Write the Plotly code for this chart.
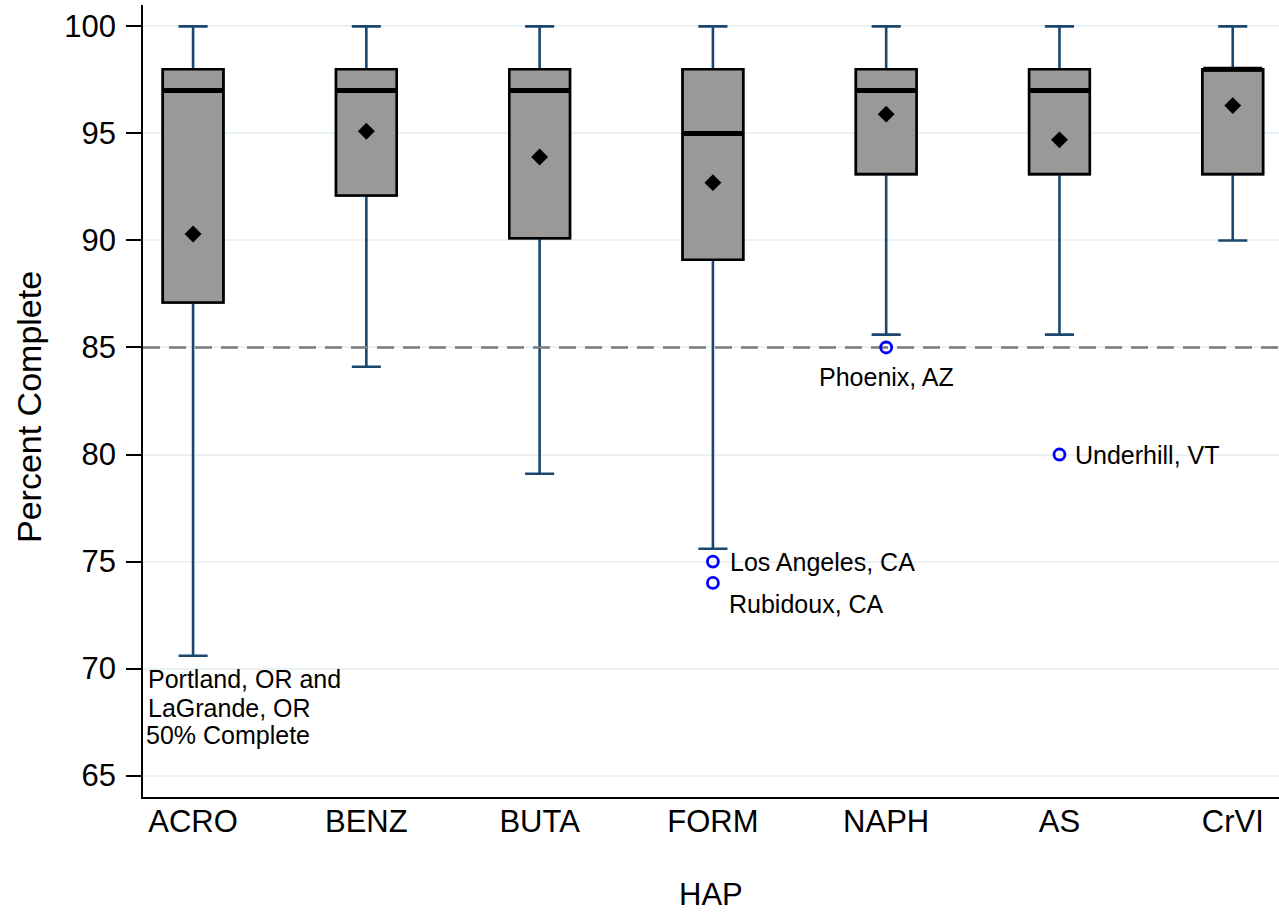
import plotly.graph_objects as go

# ---- data ----
categories = ["ACRO", "BENZ", "BUTA", "FORM", "NAPH", "AS", "CrVI"]
q3_vals = [98, 98, 98, 98, 98, 98, 98]
median_vals = [97, 97, 97, 95, 97, 97, 98]
q1_vals = [87.1, 92.1, 90.1, 89.1, 93.1, 93.1, 93.1]
upper_whisker = [100, 100, 100, 100, 100, 100, 100]
lower_whisker = [70.6, 84.1, 79.1, 75.6, 85.6, 85.6, 90.0]
mean_vals = [90.3, 95.1, 93.9, 92.7, 95.9, 94.7, 96.3]

outlier_cat = ["FORM", "FORM", "NAPH", "AS"]
outlier_vals = [75, 74, 85, 80]

target = 85
y_ticks = [65, 70, 75, 80, 85, 90, 95, 100]
x_range = [-0.289, 6.267]

# label texts and their positions
label_texts = ["Los Angeles, CA", "Rubidoux, CA", "Phoenix, AZ", "Underhill, VT",
               "Portland, OR and", "LaGrande, OR", "50% Complete"]
label_x = [3.087, 3.081, 3.601, 5.078, -0.27, -0.27, -0.285]
label_y = [75, 73.0, 83.64, 80, 69.49, 68.18, 66.92]

pos = list(range(len(categories)))
idx = {c: i for i, c in enumerate(categories)}
outlier_pos = [idx[c] for c in outlier_cat]

FONT = "Liberation Sans, Arial, sans-serif"
WHISK = "#1a476f"

fig = go.Figure()

# whiskers (box outline covered by next trace)
fig.add_trace(go.Box(
    x=pos, q1=q1_vals, median=median_vals, q3=q3_vals,
    lowerfence=lower_whisker, upperfence=upper_whisker,
    width=0.35, whiskerwidth=0.48, boxpoints=False,
    line=dict(color=WHISK, width=2.6), fillcolor="rgba(0,0,0,0)",
    showlegend=False, hoverinfo="skip"))

# boxes
fig.add_trace(go.Box(
    x=pos, q1=q1_vals, median=median_vals, q3=q3_vals,
    lowerfence=q1_vals, upperfence=q3_vals,
    width=0.35, whiskerwidth=0, boxpoints=False,
    line=dict(color="black", width=2.6), fillcolor="#999999",
    showlegend=False, hoverinfo="skip"))

# reference line
fig.add_trace(go.Scatter(
    x=x_range, y=[target, target], mode="lines",
    line=dict(color="#7a7a7a", width=2.6, dash="17px,9px"),
    showlegend=False, hoverinfo="skip"))

# thick medians
fig.add_trace(go.Scatter(
    x=pos, y=median_vals, mode="markers",
    marker=dict(symbol="line-ew", size=42, line=dict(color="black", width=5)),
    showlegend=False, hoverinfo="skip"))

# means
fig.add_trace(go.Scatter(
    x=pos, y=mean_vals, mode="markers",
    marker=dict(symbol="diamond", size=13, color="black"),
    showlegend=False, hoverinfo="skip"))

# outliers
fig.add_trace(go.Scatter(
    x=outlier_pos, y=outlier_vals, mode="markers",
    marker=dict(symbol="circle-open", size=11, color="#0000ff",
                line=dict(color="#0000ff", width=2.8)),
    showlegend=False, hoverinfo="skip"))

for t, x, y in zip(label_texts, label_x, label_y):
    fig.add_annotation(x=x, y=y, text=t, showarrow=False, xanchor="left", yanchor="middle",
                       font=dict(family=FONT, size=25, color="black"))

fig.add_annotation(xref="paper", yref="paper", x=0, y=0.5, xshift=-114, yshift=-6,
                   text="Percent Complete",
                   textangle=-90, showarrow=False, xanchor="center", yanchor="middle",
                   font=dict(family=FONT, size=34, color="black"))
fig.add_annotation(xref="paper", yref="paper", x=0.5, y=0, yshift=-97, text="HAP",
                   showarrow=False, xanchor="center", yanchor="middle",
                   font=dict(family=FONT, size=31, color="black"))

fig.update_layout(
    width=1279, height=914,
    margin=dict(l=143, r=0, t=5, b=117),
    paper_bgcolor="white", plot_bgcolor="white",
    showlegend=False,
    boxmode="overlay",
    font=dict(family=FONT, color="black"),
    xaxis=dict(range=x_range, tickvals=pos, ticktext=categories,
               showgrid=False, zeroline=False, showline=True, linecolor="black", linewidth=1.5,
               ticks="", tickfont=dict(family=FONT, size=31, color="black"),
               ticklabelstandoff=-4),
    yaxis=dict(range=[64, 101], tickvals=y_ticks, showgrid=True, gridcolor="#eaf2f3", gridwidth=1.6,
               zeroline=False, showline=True, linecolor="black", linewidth=1.5,
               ticks="outside", ticklen=15, tickwidth=1.5, tickcolor="black",
               tickfont=dict(family=FONT, size=31, color="black"), ticklabelstandoff=4),
)

fig.write_html("out.html")
